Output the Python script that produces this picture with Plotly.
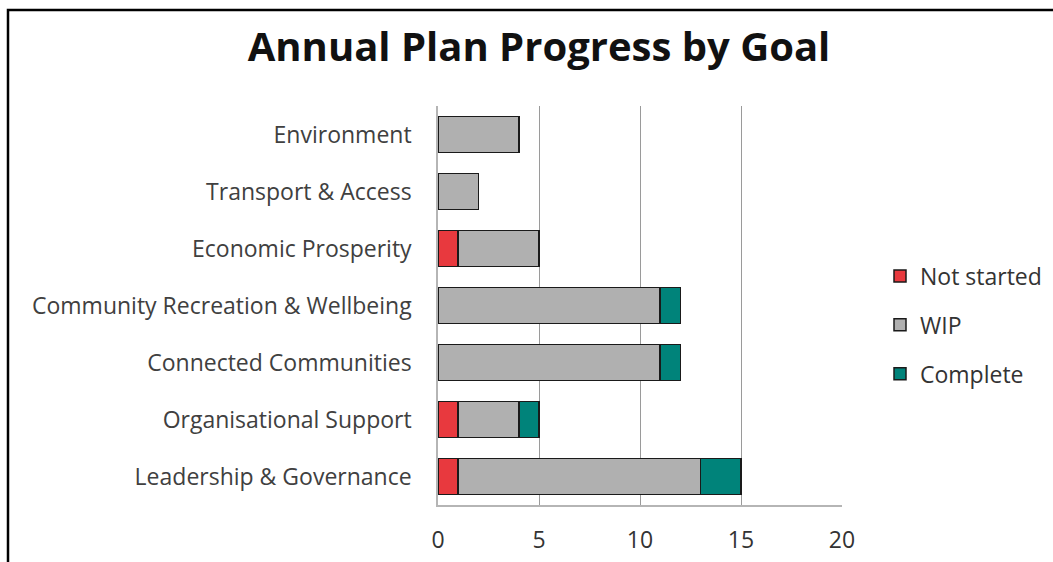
import plotly.graph_objects as go

# Goals listed bottom-to-top as they appear on the category axis
goals = [
    "Leadership & Governance",
    "Organisational Support",
    "Connected Communities",
    "Community Recreation & Wellbeing",
    "Economic Prosperity",
    "Transport & Access",
    "Environment",
]
not_started = [1, 1, 0, 0, 1, 0, 0]
wip = [12, 3, 11, 11, 4, 2, 4]
complete = [2, 1, 1, 1, 0, 0, 0]
x_ticks = [0, 5, 10, 15, 20]

FONT = "'Open Sans', 'Noto Sans', sans-serif"
W, H = 1053, 562
L, R, T, B = 438, 211, 106, 57
pw, ph = W - L - R, H - T - B

series = [
    ("Not started", not_started, "#E8393E"),
    ("WIP", wip, "#B0B0B0"),
    ("Complete", complete, "#00837A"),
]

fig = go.Figure()
for name, vals, color in series:
    fig.add_trace(go.Bar(
        y=goals, x=vals, name=name, orientation="h", legendgroup=name,
        marker=dict(color=color, line=dict(color="#1a1a1a", width=1.5)),
    ))

def px_x(p):
    return (p - L) / pw

def px_y(p):
    return (H - B - p) / ph

fig.update_layout(
    width=W, height=H,
    barmode="stack", bargap=0.36,
    margin=dict(l=L, r=R, t=T, b=B, autoexpand=False),
    paper_bgcolor="white", plot_bgcolor="white",
    font=dict(family=FONT, color="#404040", size=23),
    title=dict(
        text="<b>Annual Plan Progress by Goal</b>",
        x=539 / W, xanchor="center", y=1 - 47 / H, yanchor="middle",
        font=dict(family=FONT, size=40, color="#111111"),
    ),
    xaxis=dict(
        range=[0, 20], tickvals=x_ticks, showgrid=True, gridcolor="#9a9a9a",
        gridwidth=1, zeroline=False, showline=True, linecolor="#b5b5b5",
        linewidth=1.5, ticks="", ticklabelstandoff=14, automargin=False,
        tickfont=dict(size=23, color="#333333"),
        fixedrange=True,
    ),
    yaxis=dict(
        showgrid=False, zeroline=False, showline=True, linecolor="#b5b5b5",
        linewidth=1.5, ticks="outside", ticklen=0, ticklabelstandoff=20,
        automargin=False,
        tickfont=dict(size=23, color="#404040"),
    ),
    legend=dict(
        x=px_x(880), xanchor="left", y=px_y(325), yanchor="middle",
        font=dict(size=23, color="#333333"), traceorder="grouped",
        itemwidth=30, tracegroupgap=16,
        bgcolor="rgba(0,0,0,0)",
    ),
    shapes=[
        dict(type="rect", xref="paper", yref="paper",
             x0=px_x(8), x1=px_x(W + 20), y0=px_y(H + 20), y1=px_y(10),
             line=dict(color="#000000", width=2.5)),
    ],
)

fig.write_html("out.html")
